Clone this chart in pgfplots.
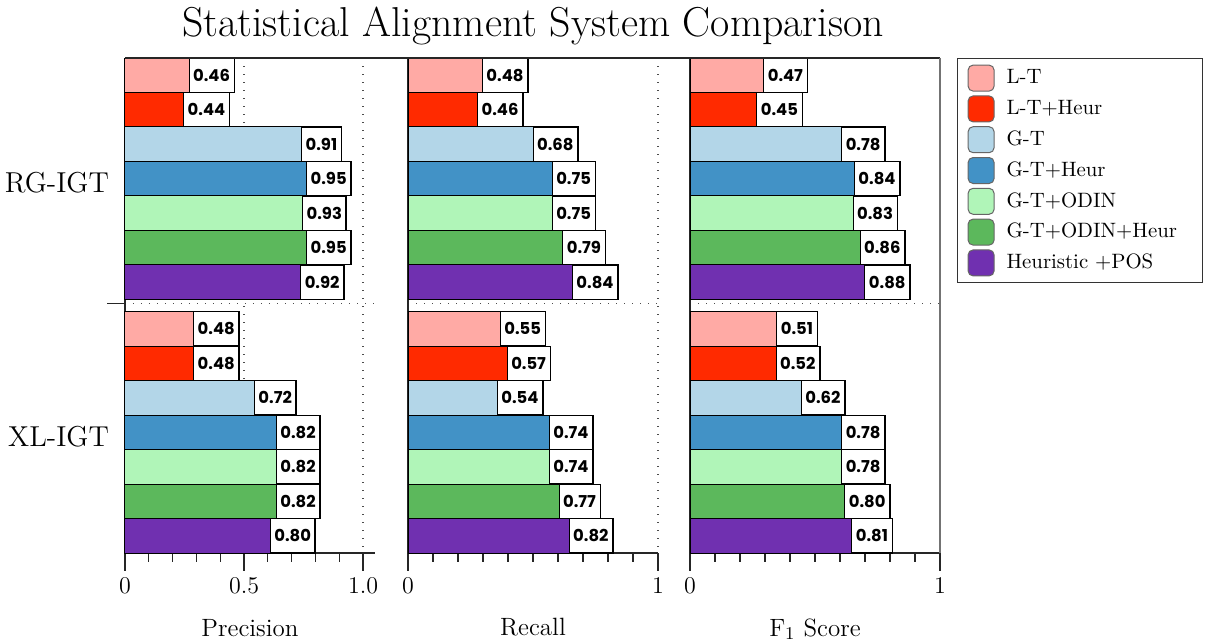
\documentclass[border=0pt]{standalone}
\usepackage{fontspec}
\usepackage{pgfplots}
\usepackage{pgfplotstable}
\pgfplotsset{compat=1.18}
\newfontfamily\lblfont{Poppins}

\definecolor{cLT}{HTML}{FFAAA5}
\definecolor{cLTH}{HTML}{FF2A00}
\definecolor{cGT}{HTML}{B3D6E8}
\definecolor{cGTH}{HTML}{4292C6}
\definecolor{cGTO}{HTML}{B0F5B8}
\definecolor{cGTOH}{HTML}{5CB85C}
\definecolor{cHP}{HTML}{7030B0}

% base = position of the first bar of each group
\pgfplotstableread{
base LT LTH GT GTH GTO GTOH HP
0    0.46 0.44 0.91 0.95 0.93 0.95 0.92
7.35 0.48 0.48 0.72 0.82 0.82 0.82 0.80
}\precdata
\pgfplotstableread{
base LT LTH GT GTH GTO GTOH HP
0    0.48 0.46 0.68 0.75 0.75 0.79 0.84
7.35 0.55 0.57 0.54 0.74 0.74 0.77 0.82
}\recdata
\pgfplotstableread{
base LT LTH GT GTH GTO GTOH HP
0    0.47 0.45 0.78 0.84 0.83 0.86 0.88
7.35 0.51 0.52 0.62 0.78 0.78 0.80 0.81
}\fonedata

\pgfplotsset{
  panel/.style={
    width=125pt, height=247.5pt, scale only axis,
    xbar, bar width=1, bar shift=0pt,
    ymin=-0.5, ymax=13.85, y dir=reverse,
    xmin=0,
    axis x line*=bottom, axis y line*=left,
    tick align=outside, major tick length=8.8pt, minor tick length=4.3pt,
    xmajorgrids=true,
    grid style={dash pattern=on 0.7pt off 3.3pt, black!70, line width=0.6pt},
    point meta=x,
    nodes near coords={\lblfont\bfseries\pgfmathprintnumber[fixed,fixed zerofill,precision=2,assume math mode=true]{\pgfplotspointmeta}},
    every node near coord/.append style={anchor=east, fill=white, draw=black,
      line width=0.5pt, font=\fontsize{8.2}{10}\selectfont\lblfont\bfseries,
      minimum height=17.2pt, inner xsep=2pt, inner ysep=0pt},
    tick label style={font=\fontsize{12}{14}\selectfont},
    label style={font=\fontsize{12.5}{15}\selectfont},
    xlabel style={yshift=-5.8pt},
    axis line style={line width=0.7pt, black!85},
    tick style={line width=0.6pt, black!85},
    clip=false,
  },
  bars/.style={draw=black, line width=0.5pt},
}

\newcommand{\panelplots}[1]{%
  \addplot[bars, fill=cLT]   table[x=LT,   y expr=\thisrow{base}+0] {#1};
  \addplot[bars, fill=cLTH]  table[x=LTH,  y expr=\thisrow{base}+1] {#1};
  \addplot[bars, fill=cGT]   table[x=GT,   y expr=\thisrow{base}+2] {#1};
  \addplot[bars, fill=cGTH]  table[x=GTH,  y expr=\thisrow{base}+3] {#1};
  \addplot[bars, fill=cGTO]  table[x=GTO,  y expr=\thisrow{base}+4] {#1};
  \addplot[bars, fill=cGTOH] table[x=GTOH, y expr=\thisrow{base}+5] {#1};
  \addplot[bars, fill=cHP]   table[x=HP,   y expr=\thisrow{base}+6] {#1};
}

\begin{document}
\begin{tikzpicture}
\useasboundingbox (0,0) rectangle (602.5pt,-320.5pt);

\node[font=\fontsize{20.9}{25}\selectfont] at (266.5pt,-13pt) {Statistical Alignment System Comparison};

% Precision
\begin{axis}[panel, name=p1, at={(62.5pt,-29pt)}, anchor=north west,
  xmax=1.05, xtick={0,0.5,1.0}, xticklabels={0,0.5,1.0}, minor x tick num=4,
  ytick={6.62}, yticklabels={}, ymajorgrids=true,
  extra y ticks={3,10.35}, extra y tick labels={RG-IGT,XL-IGT},
  extra y tick style={ymajorgrids=false, major tick length=0pt,
     yticklabel style={font=\fontsize{14.4}{17}\selectfont, xshift=-4.5pt, yshift=-2.2pt}},
  xlabel={Precision}]
\panelplots{\precdata}
\end{axis}

% Recall
\begin{axis}[panel, name=p2, at={(204pt,-29pt)}, anchor=north west,
  xmax=1, xtick={0,1}, minor x tick num=9,
  ytick={6.62}, yticklabels={}, ymajorgrids=true, ytick style={draw=none},
  xlabel={Recall}]
\panelplots{\recdata}
\end{axis}

% F1
\begin{axis}[panel, name=p3, at={(345pt,-29pt)}, anchor=north west,
  xmax=1, xtick={0,1}, minor x tick num=9,
  ytick={6.62}, yticklabels={}, ymajorgrids=true, ytick style={draw=none},
  xlabel={F$_1$ Score},
  legend style={at={(1.068,1.0)}, anchor=north west, draw=black!80,
    line width=0.6pt, font=\fontsize{10.4}{12}\selectfont,
    row sep=1.9pt, inner xsep=5pt, inner ysep=3pt,
    /tikz/every even column/.append style={nodes={text width=91pt}}},
  legend cell align=left,
  every axis plot post/.append style={
    legend image code/.code={\draw[##1, draw=black!60, line width=0.5pt, rounded corners=2.5pt] (0pt,-6.5pt) rectangle (13pt,6.5pt); \path (17pt,0pt);}},
  ]
\panelplots{\fonedata}
\legend{L-T, L-T+Heur, G-T, G-T+Heur, G-T+ODIN, G-T+ODIN+Heur, Heuristic +POS}
\end{axis}

\draw[line width=0.7pt, black!85] (p1.north west) -- (p3.north east);
\draw[line width=0.8pt, black!55] (p3.north east) -- (p3.south east);
\end{tikzpicture}
\end{document}
